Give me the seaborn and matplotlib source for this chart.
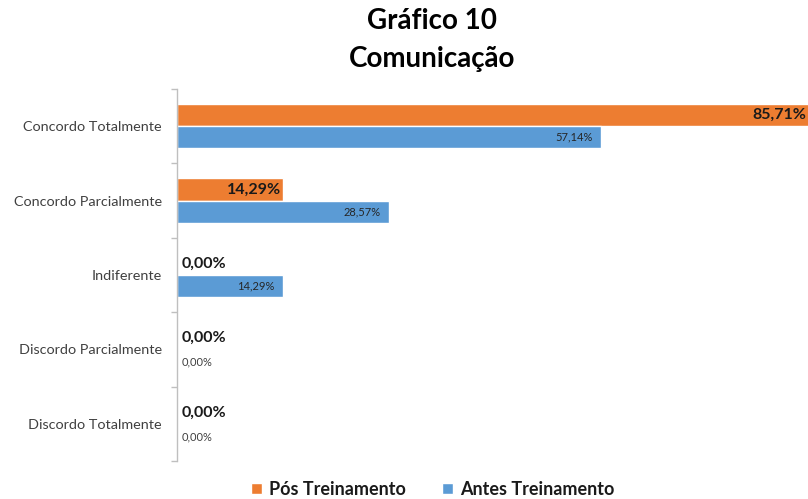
import matplotlib
matplotlib.use("Agg")
import matplotlib.pyplot as plt
import seaborn as sns
import pandas as pd
import numpy as np

categories = ["Concordo Totalmente", "Concordo Parcialmente", "Indiferente",
              "Discordo Parcialmente", "Discordo Totalmente"]
pos_values = [85.71, 14.29, 0.00, 0.00, 0.00]
antes_values = [57.14, 28.57, 14.29, 0.00, 0.00]
series = ["Pós Treinamento", "Antes Treinamento"]
colors = ["#ED7D31", "#5B9BD5"]

df = pd.DataFrame({
    "cat": categories * 2,
    "val": pos_values + antes_values,
    "serie": [series[0]] * len(categories) + [series[1]] * len(categories),
})

sns.set_theme(style="white")
plt.rcParams["font.family"] = ["Lato", "DejaVu Sans"]

fig = plt.figure(figsize=(8.08, 4.99), dpi=100)
ax = fig.add_axes([0.2191, 0.0762, 0.7809, 0.7455])

sns.barplot(data=df, x="val", y="cat", hue="serie", order=categories,
            hue_order=series, palette=colors, width=0.6, ax=ax,
            orient="h", legend=True, errorbar=None, saturation=1)

xmax = 85.0
ax.set_xlim(0, xmax)
ax.set_ylim(len(categories) - 0.5, -0.5)
ax.set_xlabel("")
ax.set_ylabel("")
ax.set_xticks([])
for s in ["top", "right", "bottom"]:
    ax.spines[s].set_visible(False)
ax.spines["left"].set_color("#BFBFBF")
ax.spines["left"].set_linewidth(1)
ax.set_yticks(range(len(categories)))
ax.set_yticklabels(categories, fontsize=10.4, color="#404040")
ax.tick_params(axis="y", which="major", left=False, length=0, pad=11)
ax.set_yticks(np.arange(-0.5, len(categories), 1), minor=True)
ax.tick_params(axis="y", which="minor", left=True, length=4, width=1,
               color="#BFBFBF", direction="out")

# labels
for ci, cont in enumerate(ax.containers):
    vals = pos_values if ci == 0 else antes_values
    for bar, v in zip(cont, vals):
        y = bar.get_y() + bar.get_height() / 2
        txt = f"{v:.2f}%".replace(".", ",")
        if ci == 0:
            if v > 0:
                ax.text(min(v, xmax) - 0.25, y, txt, ha="right", va="center",
                        fontsize=11.5, fontweight="bold", color="#1a1a1a")
            else:
                ax.text(0.6, y, txt, ha="left", va="center", fontsize=11.5,
                        fontweight="bold", color="#1a1a1a")
        else:
            if v > 0:
                ax.text(v - 1.2, y, txt, ha="right", va="center", fontsize=8,
                        color="#262626")
            else:
                ax.text(0.6, y + 0.02, txt, ha="left", va="center", fontsize=8,
                        color="#404040")

leg = ax.legend(loc="upper center", bbox_to_anchor=(0.405, -0.024), ncol=2,
                frameon=False, fontsize=13, handlelength=0.6, handleheight=0.6,
                handletextpad=0.4, columnspacing=2.0, borderaxespad=0.2)
for t in leg.get_texts():
    t.set_fontweight("bold")
    t.set_color("#1a1a1a")

fig.text(0.535, 0.958, "Gráfico 10", ha="center", va="center", fontsize=20,
         fontweight="bold", color="#000000")
fig.text(0.535, 0.882, "Comunicação", ha="center", va="center", fontsize=20,
         fontweight="bold", color="#000000")

fig.savefig("out.png", dpi=100)
